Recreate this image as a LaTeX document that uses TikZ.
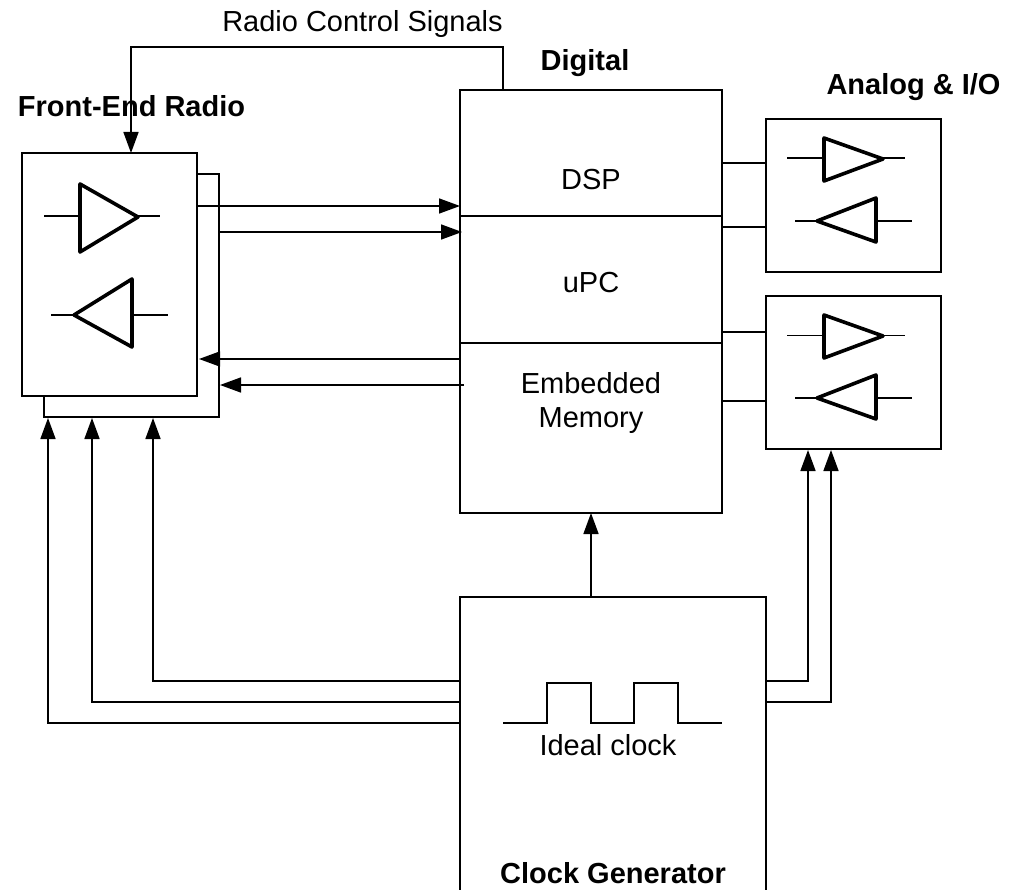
\documentclass[tikz,border=0pt]{standalone}
\usepackage{fontspec}
\setmainfont{Liberation Sans}
\usetikzlibrary{arrows.meta}
\tikzset{
  box/.style={draw=black,fill=white,line width=1.6pt,inner sep=0pt,outer sep=0pt},
  blank/.style={inner sep=0pt,outer sep=0pt},
  wire/.style={draw=black,line width=1.6pt},
  arr/.style={wire,-{Triangle[length=21pt,width=15pt]}},
  amp/.style={draw=black,line width=3.6pt,line join=round,fill=white},
  lbl/.style={inner sep=0pt,anchor=base,font=\fontsize{29}{33}\selectfont,text=black},
  head/.style={inner sep=0pt,anchor=base,font=\fontsize{29}{33}\selectfont\bfseries,text=black}
}
\begin{document}
\begin{tikzpicture}[x=1pt,y=-1pt]
\useasboundingbox (0,0) rectangle (1019,890);
% boxes
\node[box,minimum width=175pt,minimum height=243pt] (back) at (131.5,295.5) {};
\node[box,minimum width=175pt,minimum height=243pt] (front) at (109.5,274.5) {};
\node[box,minimum width=262pt,minimum height=423pt] (digital) at (591,301.5) {};
\node[box,minimum width=175pt,minimum height=153pt] (io1) at (853.5,195.5) {};
\node[box,minimum width=175pt,minimum height=153pt] (io2) at (853.5,372.5) {};
\node[blank,minimum width=306pt,minimum height=293pt] (clock) at (613,743.5) {};
\draw[wire,line join=miter] (clock.south west) -- (clock.north west) -- (clock.north east) -- (clock.south east);
% digital dividers
\draw[wire] (digital.west |- 0,216) -- (digital.east |- 0,216);
\draw[wire] (digital.west |- 0,343) -- (digital.east |- 0,343);
% labels
\node[lbl] (tradio) at (362.5,32) {Radio Control Signals};
\node[head] (tdigital) at (585,71) {Digital};
\node[head] (tfront) at (131.5,117) {Front-End Radio};
\node[head] (tanalog) at (913.5,95) {Analog \& I/O};
\node[lbl] (tdsp) at (591,190) {DSP};
\node[lbl] (tupc) at (591,293) {uPC};
\node[lbl] (tmem) at (591,393) {Embedded};
\node[lbl] (tmem2) at (591,427) {Memory};
\node[lbl] (tideal) at (608,755.5) {Ideal clock};
\node[head] (tclock) at (613,883) {Clock Generator};
% radio control
\coordinate (rc1) at (503,47);
\coordinate (rc2) at (131,47);
\draw[arr] (digital.north -| rc1) -- (rc1) -- (rc2) -- (front.north -| rc2);
% front <-> digital
\draw[arr] (front.east |- 0,206) -- (digital.west |- 0,206);
\draw[arr] (back.east |- 0,232) -- ([xshift=2pt]digital.west |- 0,232);
\draw[arr] (digital.west |- 0,359) -- ([xshift=2pt]front.east |- 0,359);
\draw[arr] ([xshift=4pt]digital.west |- 0,385) -- ([xshift=1pt]back.east |- 0,385);
% clock -> front
\coordinate (c1) at (153,681);
\coordinate (c2) at (92,702);
\coordinate (c3) at (48,723);
\draw[arr] (clock.west |- c1) -- (c1) -- ([yshift=-1pt]back.south -| c1);
\draw[arr] (clock.west |- c2) -- (c2) -- ([yshift=-1pt]back.south -| c2);
\draw[arr] (clock.west |- c3) -- (c3) -- ([yshift=-1pt]back.south -| c3);
% clock -> digital
\draw[arr] (clock.north -| digital.south) -- (digital.south);
% clock -> io2
\coordinate (c4) at (808,681);
\coordinate (c5) at (831,702);
\draw[arr] (clock.east |- c4) -- (c4) -- ([yshift=-1pt]io2.south -| c4);
\draw[arr] (clock.east |- c5) -- (c5) -- ([yshift=-1pt]io2.south -| c5);
% digital -- io
\draw[wire] (digital.east |- 0,163) -- (io1.west |- 0,163);
\draw[wire] (digital.east |- 0,227) -- (io1.west |- 0,227);
\draw[wire] (digital.east |- 0,332) -- (io2.west |- 0,332);
\draw[wire] (digital.east |- 0,401) -- (io2.west |- 0,401);
% clock waveform
\draw[wire,line join=miter] (503,723) -- (547,723) -- (547,683) -- (591,683) -- (591,723) -- (634,723) -- (634,683) -- (678,683) -- (678,723) -- (722,723);
% amplifiers: front
\draw[wire] (44,216) -- (160,216);
\draw[amp] (80,184) -- (138,217) -- (80,252) -- cycle;
\draw[wire] (51,315) -- (168,315);
\draw[amp] (132,279) -- (74,315) -- (132,347) -- cycle;
% amplifiers: io1
\draw[wire] (787,158) -- (905,158);
\draw[amp] (824,138) -- (883,159) -- (824,181) -- cycle;
\draw[wire] (795,221) -- (912,221);
\draw[amp] (876,198) -- (817,221) -- (876,242) -- cycle;
% amplifiers: io2
\draw[wire] (787,335.5) -- (905,335.5);
\draw[amp] (824,315) -- (883,336) -- (824,358) -- cycle;
\draw[wire] (795,398) -- (912,398);
\draw[amp] (876,375) -- (817,398) -- (876,419) -- cycle;
\end{tikzpicture}
\end{document}
